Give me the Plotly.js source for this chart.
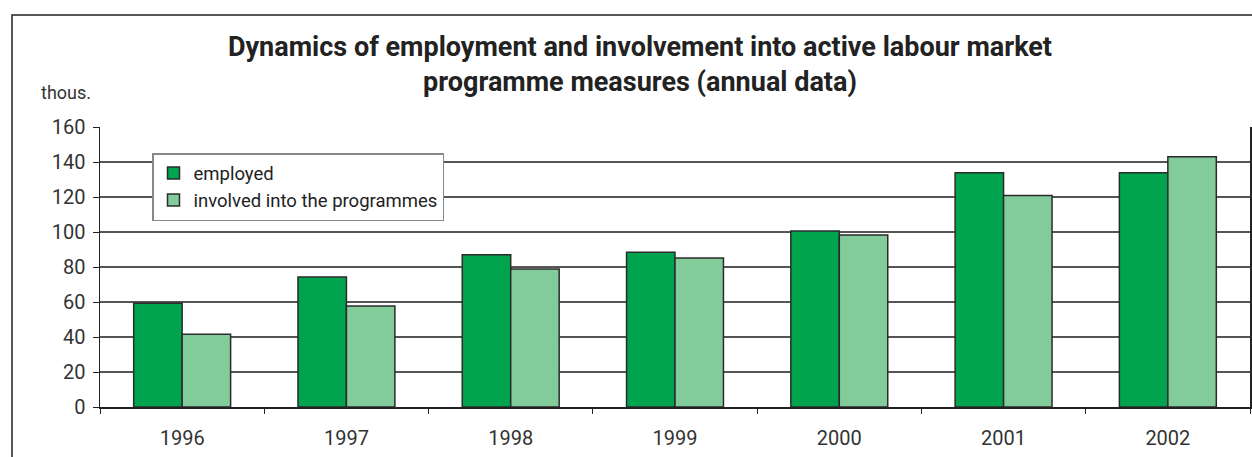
<!DOCTYPE html>
<html>
<head>
<meta charset="utf-8">
<script src="https://cdn.plot.ly/plotly-3.0.1.min.js"></script>
<style>
html,body{margin:0;padding:0;background:#fff;}
#chart{width:1252px;height:457px;}
</style>
</head>
<body>
<div id="chart"></div>
<script>
var years = ['1996', '1997', '1998', '1999', '2000', '2001', '2002'];
var employed = [59.3, 74.3, 87.0, 88.5, 100.6, 133.9, 133.9];
var involved = [41.6, 57.7, 78.8, 85.1, 98.3, 120.8, 143.0];
var seriesNames = ['employed', 'involved into the programmes'];
var yTicks = [0, 20, 40, 60, 80, 100, 120, 140, 160];

var W = 1252, H = 457;
var L = 100, R = 1250, T = 127, B = 407;
function px(x){ return (x - L) / (R - L); }
function py(y){ return (B - y) / (B - T); }

var font = "Roboto, 'Liberation Sans', sans-serif";

var data = [
  {type:'bar', name:seriesNames[0], x:years, y:employed,
   marker:{color:'#00A34E', line:{color:'#2b2b2b', width:1.5}}},
  {type:'bar', name:seriesNames[1], x:years, y:involved,
   marker:{color:'#82CB9B', line:{color:'#2b2b2b', width:1.5}}}
];

var layout = {
  width:W, height:H,
  margin:{l:L, r:W-R, t:T, b:H-B, pad:0},
  paper_bgcolor:'#fff', plot_bgcolor:'#fff',
  barmode:'group', bargap:0.41, bargroupgap:0,
  font:{family:font, color:'#222'},
  title:{text:'Dynamics of employment and involvement into active labour market<br>programme measures (annual data)',
         font:{family:font, size:27, color:'#222', weight:'bold'},
         x:px(640), xanchor:'center', xref:'paper', y:1-56/H, yanchor:'middle'},
  xaxis:{type:'category', tickson:'boundaries', ticks:'outside', ticklen:5, tickcolor:'#222',
         showline:true, linecolor:'#222', linewidth:1.5, showgrid:false,
         tickfont:{size:20, color:'#333'}, ticklabelstandoff:12, fixedrange:true},
  yaxis:{range:[0,160], tickvals:yTicks, ticks:'outside', ticklen:6, tickcolor:'#222',
         showline:true, mirror:true, linecolor:'#222', linewidth:1.5,
         showgrid:true, gridcolor:'#555', gridwidth:1.2, zeroline:false,
         tickfont:{size:20, color:'#333'}, ticklabelstandoff:3, fixedrange:true},
  legend:{x:px(152), y:py(153), xanchor:'left', yanchor:'top',
          bgcolor:'#fff', bordercolor:'#888', borderwidth:1.5,
          font:{size:18.5, color:'#222'}, tracegroupgap:0, itemwidth:30},
  annotations:[{text:'thous.', xref:'paper', yref:'paper', x:px(66), y:py(92),
                xanchor:'center', yanchor:'middle', showarrow:false,
                font:{size:18, color:'#333'}}],
  shapes:[{type:'path', xref:'paper', yref:'paper',
           path:'M '+px(12)+' '+py(470)+' L '+px(12)+' '+py(15)+' L '+px(1260)+' '+py(15),
           line:{color:'#222', width:1.5}}]
};

Plotly.newPlot('chart', data, layout, {displayModeBar:false, staticPlot:true});
</script>
</body>
</html>
